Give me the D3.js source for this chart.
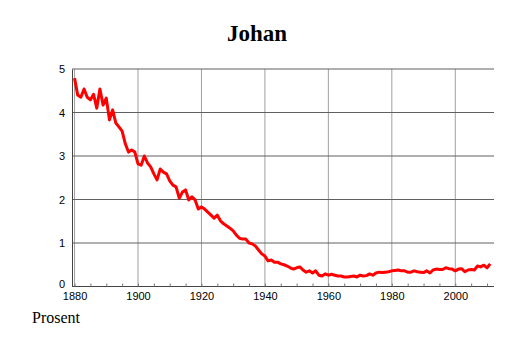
<!DOCTYPE html>
<html lang="no">
<head>
<meta charset="UTF-8">
<title>Johan</title>
<style>
  body { margin: 0; background: #fff; }
  .title { font: bold 23px "Liberation Serif", serif; text-anchor: middle; }
  .ylab { font: 16px "Liberation Serif", serif; }
  .tick text { font: 11px "Liberation Sans", sans-serif; fill: #000; }
</style>
</head>
<body>
<svg id="chart" width="514" height="343"></svg>
<script src="https://d3js.org/d3.v7.min.js"></script>
<script>
// andel (prosent) per år
const years = d3.range(1880, 2012);
const values = [
  4.79, 4.40, 4.35, 4.54, 4.35, 4.29, 4.42, 4.10, 4.54, 4.17,
  4.33, 3.83, 4.06, 3.76, 3.67, 3.57, 3.28, 3.09, 3.14, 3.09,
  2.82, 2.79, 3.00, 2.84, 2.75, 2.59, 2.45, 2.70, 2.63, 2.59,
  2.43, 2.33, 2.29, 2.03, 2.17, 2.22, 1.99, 2.06, 1.99, 1.78,
  1.83, 1.78, 1.71, 1.64, 1.57, 1.64, 1.51, 1.44, 1.39, 1.34,
  1.28, 1.18, 1.11, 1.09, 1.09, 1.00, 0.98, 0.93, 0.84, 0.75,
  0.70, 0.59, 0.61, 0.56, 0.56, 0.52, 0.50, 0.47, 0.43, 0.40,
  0.43, 0.45, 0.38, 0.33, 0.36, 0.31, 0.36, 0.26, 0.24, 0.29,
  0.26, 0.28, 0.26, 0.24, 0.24, 0.22, 0.22, 0.23, 0.24, 0.22,
  0.26, 0.24, 0.25, 0.29, 0.26, 0.31, 0.33, 0.32, 0.33, 0.34,
  0.36, 0.37, 0.38, 0.36, 0.36, 0.33, 0.33, 0.36, 0.34, 0.33,
  0.32, 0.36, 0.31, 0.38, 0.40, 0.39, 0.39, 0.43, 0.41, 0.40,
  0.36, 0.40, 0.41, 0.34, 0.38, 0.39, 0.38, 0.47, 0.45, 0.49,
  0.43, 0.52
];
const xTicks = [1880, 1900, 1920, 1940, 1960, 1980, 2000];
const yTicks = [0, 1, 2, 3, 4, 5];

const data = years.map((y, i) => ({ year: y, value: values[i] }));

const mLeft = 72, mRight = 494, mTop = 69, mBottom = 286.5;
const svg = d3.select('#chart');

const x = d3.scaleLinear().domain([1879.2, 2012.2]).range([mLeft, mRight]);
const y = d3.scaleLinear().domain([0, 5]).range([mBottom, mTop]);

svg.append('text').attr('class', 'title')
  .attr('x', 257).attr('y', 41).text('Johan');

// vertikale rutenett
svg.append('g').selectAll('line')
  .data(xTicks)
  .enter().append('line')
  .attr('x1', d => x(d)).attr('x2', d => x(d))
  .attr('y1', mTop).attr('y2', mBottom)
  .attr('stroke', '#a0a0a0').attr('stroke-width', 1);

// horisontale rutenett
svg.append('g').selectAll('line')
  .data(yTicks.slice(1))
  .enter().append('line')
  .attr('x1', mLeft).attr('x2', mRight)
  .attr('y1', d => y(d)).attr('y2', d => y(d))
  .attr('stroke', '#606060').attr('stroke-width', 1);

// x-akse med små tick hvert 5. år
const xAxis = svg.append('g').attr('transform', `translate(0,${mBottom})`)
  .call(d3.axisBottom(x).tickValues(d3.range(1880, 2015, 5))
    .tickSize(-3).tickPadding(6)
    .tickFormat(d => xTicks.includes(d) ? d : ''));
xAxis.select('.domain').attr('d', `M${mLeft},0H${mRight}`).attr('stroke', '#444');
xAxis.selectAll('.tick line').attr('stroke', '#777');

const yAxis = svg.append('g').attr('transform', `translate(${mLeft},0)`)
  .call(d3.axisLeft(y).tickValues(yTicks).tickSize(0).tickPadding(7)
    .tickFormat(d3.format('d')));
yAxis.select('.domain').attr('stroke', '#444');
// nullen litt opp, slik som i originalen
yAxis.selectAll('.tick text').filter(d => d === 0).attr('dy', '0.1em');

svg.append('path')
  .datum(data)
  .attr('fill', 'none')
  .attr('stroke', '#ff0000')
  .attr('stroke-width', 3)
  .attr('stroke-linejoin', 'round')
  .attr('d', d3.line().x(d => x(d.year)).y(d => y(d.value)));

svg.append('text').attr('class', 'ylab')
  .attr('x', 32).attr('y', 323).text('Prosent');
</script>
</body>
</html>
